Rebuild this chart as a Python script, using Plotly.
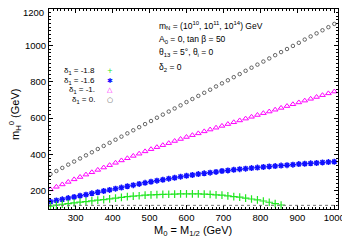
import plotly.graph_objects as go

# ---- data ----
m0 = [232, 248, 264, 280, 296, 312, 328, 344, 360, 376, 392, 408, 424, 440, 456, 472,
      488, 504, 520, 536, 552, 568, 584, 600, 616, 632, 648, 664, 680, 696, 712, 728,
      744, 760, 776, 792, 808, 824, 840, 856, 872, 888, 904, 920, 936, 952, 968, 984, 1000]

mh_d0 = [292, 309, 326, 344, 361, 378, 395, 412, 430, 447, 464, 481, 498, 516, 533, 550,
         567, 584, 602, 619, 636, 653, 670, 688, 705, 722, 739, 756, 774, 791, 808, 825,
         842, 860, 877, 894, 911, 928, 946, 963, 980, 997, 1014, 1032, 1049, 1066, 1083, 1100, 1118]

mh_d1 = [208, 222, 235, 249, 263, 276, 289, 302, 315, 328, 341, 354, 367, 379, 392, 404,
         417, 429, 440, 451, 462, 474, 485, 496, 506, 516, 527, 537, 547, 557, 567, 577,
         587, 597, 607, 617, 627, 636, 646, 656, 666, 676, 686, 696, 706, 716, 726, 736, 746]

mh_d16 = [140, 147, 153, 160, 166, 173, 179, 186, 192, 199, 205, 212, 218, 225, 231, 238,
          244, 250, 256, 261, 267, 272, 278, 283, 287, 292, 296, 300, 304, 309, 312, 316,
          319, 322, 325, 328, 331, 334, 336, 339, 341, 344, 347, 349, 351, 353, 356, 358, 360]

mh_d18 = [116, 121, 126, 130, 134, 138, 141, 145, 149, 152, 156, 160, 164, 168, 171, 173,
          176, 178, 179, 180, 181, 182, 183, 183, 183, 183, 182, 180, 178, 176, 172, 168,
          165, 160, 155, 150, 144, 137, 130, 122]

lep_bound = 120

x_ticks = [300, 400, 500, 600, 700, 800, 900, 1000]
y_ticks = [200, 400, 600, 800, 1000, 1200]
y_ticktext = ["200", "400", "600", "800", "1000", ""]   # top label drawn as annotation
top_label = "1200"

legend_labels = ["δ<sub>1</sub> = -1.8", "δ<sub>1</sub> = -1.6", "δ<sub>1</sub> = -1.", "δ<sub>1</sub> = 0."]
legend_glyphs = ["+", "✱", "△", "○"]
colors = ["#22e622", "#1010ff", "#ff00ff", "#555555"]

info_lines = [
    "m<sub>N</sub> = (10<sup>10</sup>, 10<sup>11</sup>, 10<sup>14</sup>) GeV",
    "A<sub>0</sub> = 0, tan β = 50",
    "θ<sub>13</sub> = 5°, θ<sub>i</sub> = 0",
    "δ<sub>2</sub> = 0",
]

FONT = "Liberation Sans, Arial, Helvetica, sans-serif"
X0, X1 = 228, 1010

# The page body carries the browser's default 8px margin, so the figure is
# shrunk by that amount to keep the plot frame where the reference has it.
PAGE_OFF = 8
PL, PT, PW, PH = 49, 9, 289, 200        # plot frame in window pixels


def px(xw):
    return (xw - PL) / PW


def py(yw):
    return (PT + PH - yw) / PH


fig = go.Figure()

fig.add_trace(go.Scatter(x=m0, y=mh_d0, mode="markers",
                         marker=dict(symbol="circle-open", size=3.5, color=colors[3],
                                     line=dict(width=0.9, color=colors[3]))))
fig.add_trace(go.Scatter(x=m0, y=mh_d1, mode="markers",
                         marker=dict(symbol="triangle-up-open", size=5, color=colors[2],
                                     line=dict(width=1, color=colors[2]))))
fig.add_trace(go.Scatter(x=m0, y=mh_d16, mode="markers",
                         marker=dict(symbol="asterisk-open", size=5, color=colors[1],
                                     line=dict(width=1.5, color=colors[1]))))
fig.add_trace(go.Scatter(x=m0[:len(mh_d18)], y=mh_d18, mode="markers",
                         marker=dict(symbol="cross-thin-open", size=5.5, color=colors[0],
                                     line=dict(width=1.2, color=colors[0]))))

fig.add_shape(type="line", xref="paper", x0=0, x1=1, yref="y", y0=lep_bound, y1=lep_bound,
              line=dict(color="#777777", width=1, dash="dot"))

annotations = []
leg_y = [71, 80.5, 90, 99.5]
for lab, gly, col, yw in zip(legend_labels, legend_glyphs, colors, leg_y):
    annotations.append(dict(text=lab, xref="paper", yref="paper", x=px(97), y=py(yw),
                            xanchor="right", yanchor="middle", showarrow=False,
                            font=dict(size=8, color="black", family=FONT)))
    annotations.append(dict(text=gly, xref="paper", yref="paper", x=px(110), y=py(yw),
                            xanchor="center", yanchor="middle", showarrow=False,
                            font=dict(size=7, color=col, family="DejaVu Sans")))

info_y = [26, 39.5, 53, 67.5]
for t, yw in zip(info_lines, info_y):
    annotations.append(dict(text=t, xref="paper", yref="paper", x=px(157),
                            y=py(yw), xanchor="left", yanchor="middle",
                            showarrow=False, font=dict(size=8.5, color="black", family=FONT)))

annotations.append(dict(text="M<sub>0</sub> = M<sub>1/2</sub> (GeV)", xref="paper", yref="paper",
                        x=px(193), y=py(231), xanchor="center", yanchor="middle",
                        showarrow=False, font=dict(size=11, color="black", family=FONT)))
annotations.append(dict(text="m<sub>H</sub><sup>0</sup> (GeV)", xref="paper", yref="paper",
                        x=px(15), y=py(115), xanchor="center", yanchor="middle",
                        textangle=-90, showarrow=False,
                        font=dict(size=11, color="black", family=FONT)))
annotations.append(dict(text=top_label, xref="paper", yref="paper", x=px(44.5), y=py(12.5),
                        xanchor="right", yanchor="middle", showarrow=False, borderpad=0,
                        font=dict(size=9.5, color="black", family=FONT)))

axis_common = dict(showgrid=False, zeroline=False, showline=True, linecolor="black", linewidth=1,
                   mirror="allticks", ticks="inside", ticklen=4, tickcolor="black",
                   tickfont=dict(size=9.5, color="black", family=FONT))

W, H = 350 - PAGE_OFF, 245 - PAGE_OFF
fig.update_layout(
    width=W, height=H,
    margin=dict(l=PL - PAGE_OFF, r=W - (PL - PAGE_OFF) - PW, t=PT - PAGE_OFF,
                b=H - (PT - PAGE_OFF) - PH, pad=0),
    paper_bgcolor="white", plot_bgcolor="white",
    showlegend=False,
    annotations=annotations,
    xaxis=dict(range=[X0, X1], tickvals=x_ticks,
               minor=dict(ticks="inside", ticklen=2, dtick=10, tickcolor="black"),
               **axis_common),
    yaxis=dict(range=[100, 1200], tickvals=y_ticks, ticktext=y_ticktext,
               minor=dict(ticks="inside", ticklen=2, dtick=20, tickcolor="black"),
               **axis_common),
)

fig.write_html("out.html")
